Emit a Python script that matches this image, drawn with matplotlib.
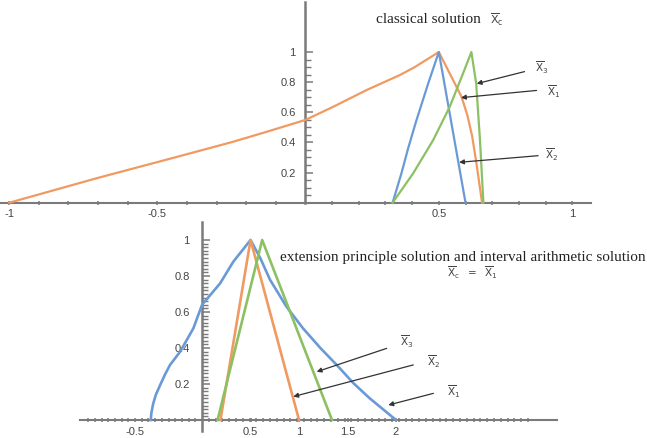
import numpy as np
import matplotlib
matplotlib.use("Agg")
import matplotlib.pyplot as plt
from matplotlib.ticker import FixedLocator, NullFormatter

# ---------------- data: top panel (classical solution) ----------------
top_orange_x = [-1.0, -0.7, -0.47, -0.305, -0.243, -0.13, 0.0, 0.105, 0.23, 0.354, 0.41, 0.5,
                0.547, 0.585, 0.607, 0.625, 0.641, 0.662]
top_orange_y = [0.0, 0.165, 0.285, 0.372, 0.405, 0.471, 0.549, 0.637, 0.748, 0.847, 0.90, 1.0,
                0.836, 0.703, 0.58, 0.44, 0.26, 0.0]
top_blue_x = [0.327, 0.36, 0.385, 0.415, 0.46, 0.5, 0.6]
top_blue_y = [0.0, 0.195, 0.36, 0.54, 0.79, 1.0, 0.0]
top_green_x = [0.327, 0.404, 0.479, 0.541, 0.591, 0.622, 0.64, 0.654, 0.667]
top_green_y = [0.0, 0.195, 0.416, 0.637, 0.859, 1.0, 0.79, 0.42, 0.0]

top_xticks = [-1, -0.5, 0.5, 1]
top_xtick_labels = ["-1", "-0.5", "0.5", "1"]
top_yticks = [0.2, 0.4, 0.6, 0.8, 1.0]
top_ytick_labels = ["0.2", "0.4", "0.6", "0.8", "1"]

top_labels = ["3", "1", "2"]
top_label_xy = [(0.885, 0.892), (0.93, 0.737), (0.922, 0.317)]
top_arrow_tail = [(0.821, 0.87), (0.866, 0.745), (0.872, 0.312)]
top_arrow_head = [(0.642, 0.79), (0.583, 0.697), (0.576, 0.268)]

# ---------------- data: bottom panel (extension principle) ----------------
bot_blue_x = [-0.383, -0.378, -0.365, -0.345, -0.313, -0.275, -0.239, -0.164, -0.065, 0.0, 0.186,
              0.323, 0.5, 0.6, 0.7, 0.87, 1.04, 1.22, 1.39, 1.56, 1.73, 2.0]
bot_blue_y = [0.0, 0.04, 0.09, 0.14, 0.194, 0.255, 0.306, 0.379, 0.509, 0.64, 0.759,
              0.88, 1.0, 0.9, 0.78, 0.63, 0.51, 0.40, 0.305, 0.205, 0.12, 0.0]
bot_orange_x = [0.19, 0.5, 1.0]
bot_orange_y = [0.0, 1.0, 0.0]
bot_green_x = [0.16, 0.62, 1.34]
bot_green_y = [0.0, 1.0, 0.0]

bot_xticks = [-0.5, 0.5, 1, 1.5, 2]
bot_xtick_labels = ["-0.5", "0.5", "1", "1.5", "2"]
bot_yticks = [0.2, 0.4, 0.6, 0.8, 1.0]
bot_ytick_labels = ["0.2", "0.4", "0.6", "0.8", "1"]

bot_labels = ["3", "2", "1"]
bot_label_xy = [(2.11, 0.432), (2.385, 0.324), (2.59, 0.157)]
bot_arrow_tail = [(1.904, 0.398), (2.178, 0.306), (2.385, 0.148)]
bot_arrow_head = [(1.182, 0.268), (0.941, 0.13), (1.921, 0.083)]

# ---------------- style ----------------
C_BLUE = "#6a9ad6"
C_ORANGE = "#f09a62"
C_GREEN = "#8cc064"
AX_COL = "#7a7a7a"
TXT_COL = "#444444"
ARR_COL = "#333333"
SERIF = ["Liberation Serif", "DejaVu Serif"]

plt.rcParams["font.family"] = ["Liberation Sans", "DejaVu Sans"]
plt.rcParams["mathtext.fontset"] = "dejavusans"

fig = plt.figure(figsize=(6.47, 4.38), dpi=100)


def piecewise_scale(ax, k):
    def fwd(x):
        x = np.asarray(x, dtype=float)
        return np.where(x < 0, x * k, x)

    def inv(y):
        y = np.asarray(y, dtype=float)
        return np.where(y < 0, y / k, y)

    ax.set_xscale("function", functions=(fwd, inv))


def style_axes(ax, xmaj, xmaj_lab, xmin, ymaj, ymaj_lab, ymin, ypad, ymaj_len, ymin_len):
    for s in ("top", "right"):
        ax.spines[s].set_visible(False)
    ax.spines["left"].set_position(("data", 0))
    ax.spines["bottom"].set_position(("data", 0))
    ax.spines["left"].set_color(AX_COL)
    ax.spines["bottom"].set_color(AX_COL)
    ax.spines["left"].set_linewidth(1.8)
    ax.spines["bottom"].set_linewidth(1.5)
    ax.set_facecolor("none")

    ax.xaxis.set_major_locator(FixedLocator(xmaj))
    ax.set_xticklabels(xmaj_lab)
    ax.xaxis.set_minor_locator(FixedLocator(xmin))
    ax.xaxis.set_minor_formatter(NullFormatter())
    ax.yaxis.set_major_locator(FixedLocator(ymaj))
    ax.set_yticklabels(ymaj_lab)
    ax.yaxis.set_minor_locator(FixedLocator(ymin))
    ax.yaxis.set_minor_formatter(NullFormatter())

    ax.tick_params(axis="x", which="both", direction="inout", length=3.5, width=1.1,
                   color=AX_COL, labelsize=8, labelcolor=TXT_COL, pad=3)
    ax.tick_params(axis="y", which="major", direction="in", length=ymaj_len, width=1.1,
                   color=AX_COL, labelsize=8, labelcolor=TXT_COL, pad=ypad)
    ax.tick_params(axis="y", which="minor", direction="in", length=ymin_len, width=1.0,
                   color=AX_COL)


def xbar(sub):
    return r"$\overline{\mathsf{X}}_{\mathsf{" + sub + r"}}$"


# ---------------- top panel ----------------
k_top = 296.0 / 267.0
ax1 = fig.add_axes([0.41 / 647, 1 - 202.7 / 438, 590.6 / 647, 200.4 / 438])
piecewise_scale(ax1, k_top)
ax1.set_xlim(-1.03, 1.07)
ax1.set_ylim(0, 1.33)
top_xmin = [v for v in np.round(np.arange(-0.9, 1.01, 0.1), 2) if abs(v) > 1e-9 and v not in (-0.5, 0.5, 1.0)]
top_ymin = [v for v in np.round(np.arange(0.05, 1.0, 0.05), 2) if abs((v * 5) - round(v * 5)) > 1e-6]
style_axes(ax1, top_xticks, top_xtick_labels, top_xmin, top_yticks, top_ytick_labels, top_ymin,
           ypad=7, ymaj_len=6, ymin_len=4.5)

ax1.plot(top_orange_x, top_orange_y, color=C_ORANGE, lw=1.6, clip_on=False, zorder=3)
ax1.plot(top_blue_x, top_blue_y, color=C_BLUE, lw=1.6, clip_on=False, zorder=3)
ax1.plot(top_green_x, top_green_y, color=C_GREEN, lw=1.6, clip_on=False, zorder=3)

ax1.text(0.265, 1.219, "classical solution", family=SERIF, fontsize=11, color="#222222",
         ha="left", va="center")
ax1.text(0.69, 1.215, xbar("c"), fontsize=8, color=TXT_COL, ha="left", va="center")

for lab, (lx, ly), tail, head in zip(top_labels, top_label_xy, top_arrow_tail, top_arrow_head):
    ax1.text(lx, ly, xbar(lab), fontsize=7.5, color=TXT_COL, ha="center", va="center")
    ax1.annotate("", xy=head, xytext=tail,
                 arrowprops=dict(arrowstyle="-|>", color=ARR_COL, lw=0.9,
                                 mutation_scale=7, shrinkA=0, shrinkB=0))

# ---------------- bottom panel ----------------
k_bot = 134.0 / 97.0
ax2 = fig.add_axes([80 / 647, 1 - 430.8 / 438, 477 / 647, 208.8 / 438])
piecewise_scale(ax2, k_bot)
ax2.set_xlim(-0.911, 3.66)
ax2.set_ylim(-0.06, 1.1)
bot_xmin = [v for v in np.round(np.arange(-0.85, -0.01, 0.05), 3) if abs(v + 0.5) > 1e-6] + \
           [v for v in np.round(np.arange(0.07, 3.4, 0.07), 3)]
bot_ymin = [v for v in np.round(np.arange(0.02, 1.0, 0.02), 3) if abs((v * 5) - round(v * 5)) > 1e-6]
style_axes(ax2, bot_xticks, bot_xtick_labels, bot_xmin, bot_yticks, bot_ytick_labels, bot_ymin,
           ypad=9, ymaj_len=6, ymin_len=4)

ax2.plot(bot_blue_x, bot_blue_y, color=C_BLUE, lw=1.9, clip_on=False, zorder=3)
ax2.plot(bot_orange_x, bot_orange_y, color=C_ORANGE, lw=1.9, clip_on=False, zorder=3)
ax2.plot(bot_green_x, bot_green_y, color=C_GREEN, lw=1.9, clip_on=False, zorder=3)

ax2.text(0.804, 0.904, "extension principle solution and interval arithmetic solution",
         family=SERIF, fontsize=11, color="#222222", ha="left", va="center")
ax2.text(2.53, 0.82, xbar("c") + r"$\ \ =\ \ $" + xbar("1"), fontsize=7.5, color=TXT_COL,
         ha="left", va="center")

for lab, (lx, ly), tail, head in zip(bot_labels, bot_label_xy, bot_arrow_tail, bot_arrow_head):
    ax2.text(lx, ly, xbar(lab), fontsize=7.5, color=TXT_COL, ha="center", va="center")
    ax2.annotate("", xy=head, xytext=tail,
                 arrowprops=dict(arrowstyle="-|>", color=ARR_COL, lw=0.9,
                                 mutation_scale=7, shrinkA=0, shrinkB=0))

fig.savefig("out.png", dpi=100)
